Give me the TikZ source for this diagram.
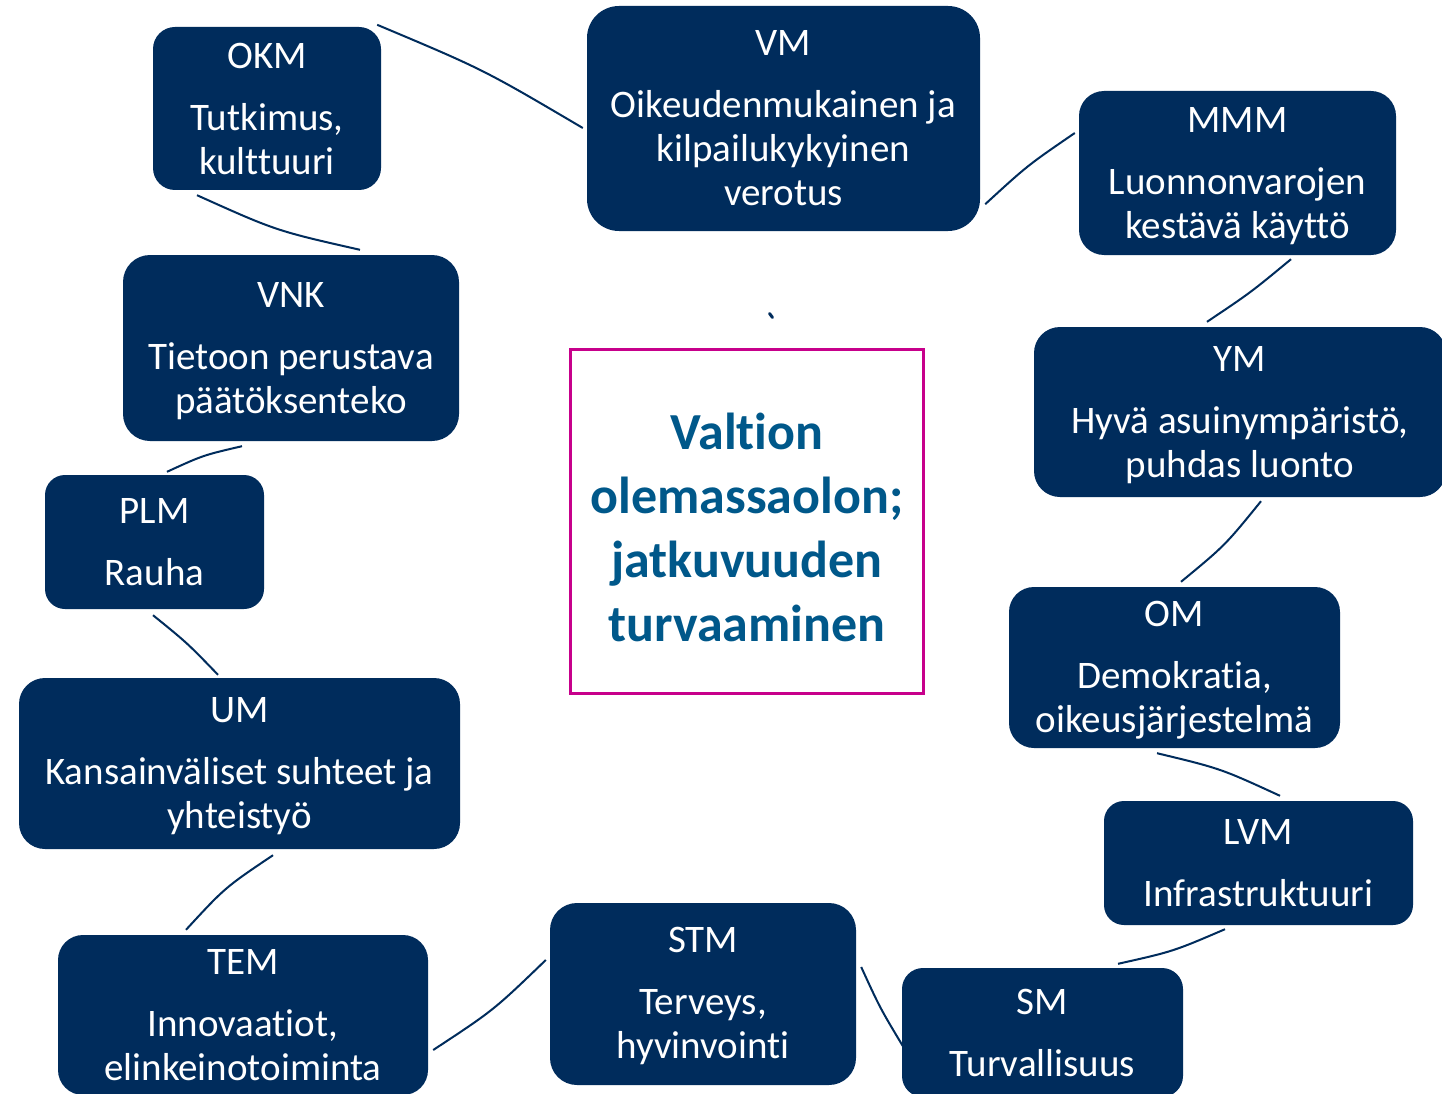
\documentclass[tikz,border=0pt]{standalone}
\usepackage{fontspec}
\setmainfont{Carlito}[Ligatures={NoCommon}]
\usetikzlibrary{calc}
\definecolor{navy}{RGB}{0,44,92}
\definecolor{ctext}{RGB}{0,88,138}
\definecolor{magen}{RGB}{199,0,139}
\tikzset{
  box/.style={fill=navy, draw=none, text=white, align=center,
    font=\fontsize{39}{44}\selectfont, inner sep=0pt},
  link/.style={draw=navy, line width=2pt},
  core/.style={draw=magen, line width=3pt, fill=white, align=center, text=ctext,
    font=\bfseries\fontsize{52}{64}\selectfont, inner sep=0pt},
}
\begin{document}
\begin{tikzpicture}[x=1pt,y=-1pt]
\useasboundingbox (0,0) rectangle (1442,1094);
\clip (0,0) rectangle (1442,1094);
\fill[white] (0,0) rectangle (1442,1094);

\node[box, minimum width=228pt, minimum height=163pt, rounded corners=22pt] (okm) at (267,108.5) {OKM\\[18pt]Tutkimus,\\kulttuuri};
\node[box, minimum width=393pt, minimum height=225pt, rounded corners=32pt] (vm) at (783.5,118.5) {VM\\[18pt]Oikeudenmukainen ja\\kilpailukykyinen\\verotus};
\node[box, minimum width=317pt, minimum height=164pt, rounded corners=25pt] (mmm) at (1237.5,173) {\rule{0pt}{32pt}MMM\\[18pt]Luonnonvarojen\\kestävä käyttö};
\node[box, minimum width=336pt, minimum height=186pt, rounded corners=27pt] (vnk) at (291,348) {\rule{0pt}{32pt}VNK\\[18pt]Tietoon perustava\\päätöksenteko};
\node[box, minimum width=412pt, minimum height=170pt, rounded corners=26pt] (ym) at (1240,412) {\rule{0pt}{32pt}YM\\[18pt]Hyvä asuinympäristö,\\puhdas luonto};
\node[box, minimum width=219pt, minimum height=134pt, rounded corners=20pt] (plm) at (154.5,542) {PLM\\[18pt]Rauha};
\node[box, minimum width=331pt, minimum height=161pt, rounded corners=25pt] (om) at (1174.5,667.5) {\rule{0pt}{30pt}OM\\[18pt]Demokratia,\\oikeusjärjestelmä};
\node[box, minimum width=441pt, minimum height=171pt, rounded corners=26pt] (um) at (239.5,763.5) {\rule{0pt}{30pt}UM\\[18pt]Kansainväliset suhteet ja\\yhteistyö};
\node[box, minimum width=309pt, minimum height=124pt, rounded corners=20pt] (lvm) at (1258.5,863) {LVM\\[18pt]Infrastruktuuri};
\node[box, minimum width=370pt, minimum height=160pt, rounded corners=25pt] (tem) at (243,1015) {TEM\\[18pt]Innovaatiot,\\elinkeinotoiminta};
\node[box, minimum width=306pt, minimum height=182pt, rounded corners=27pt] (stm) at (703,994) {\rule{0pt}{30pt}STM\\[18pt]Terveys,\\hyvinvointi};
\node[box, minimum width=281pt, minimum height=129pt, rounded corners=21pt] (sm) at (1042.5,1032.5) {SM\\[18pt]Turvallisuus};

\node[core, minimum width=353pt, minimum height=344pt] (core) at (747,521.5) {\rule{0pt}{48pt}Valtion\\olemassaolon;\\jatkuvuuden\\turvaaminen};

\draw[navy, line width=3pt, line cap=round] (769.5,313.5) -- (772.5,317.5);

\draw[link] ($(okm.north east)+(-4,-2)$) .. controls (483.5,69.5) .. ($(vm.west)+(-4,9.5)$);
\draw[link] ($(vm.south east)+(5,-27)$) .. controls (1027.5,165.4) .. ($(mmm.west)+(-4,-40)$);
\draw[link] ($(mmm.south)+(53.5,4)$) .. controls (1250.6,292.6) .. ($(ym.north)+(-33,-5)$);
\draw[link] ($(ym.south)+(21,4)$) .. controls (1225,545.5) .. ($(om.north)+(6.5,-5)$);
\draw[link] ($(om.south)+(-17.5,5)$) .. controls (1220.6,768.5) .. ($(lvm.north)+(21.5,-5)$);
\draw[link] ($(lvm.south)+(-33.5,4)$) .. controls (1173,951.5) .. ($(sm.north)+(75.5,-4)$);
\draw[link] ($(sm.west)+(1,13.5)$) .. controls (880,1008) .. ($(stm.east)+(5,-27)$);
\draw[link] ($(stm.west)+(-4,-34)$) .. controls (493.7,1010.2) .. ($(tem.east)+(5,35)$);
\draw[link] ($(tem.north)+(-57,-5)$) .. controls (225.1,887.4) .. ($(um.south)+(33.5,6)$);
\draw[link] ($(um.north)+(-21.5,-3)$) .. controls (187.3,643) .. ($(plm.south)+(-1.5,6)$);
\draw[link] ($(plm.north)+(12.5,-3)$) .. controls (203.2,455.2) .. ($(vnk.south)+(-49,5)$);
\draw[link] ($(vnk.north)+(69,-5)$) .. controls (276.1,230.8) .. ($(okm.south)+(-70,5)$);
\end{tikzpicture}
\end{document}
